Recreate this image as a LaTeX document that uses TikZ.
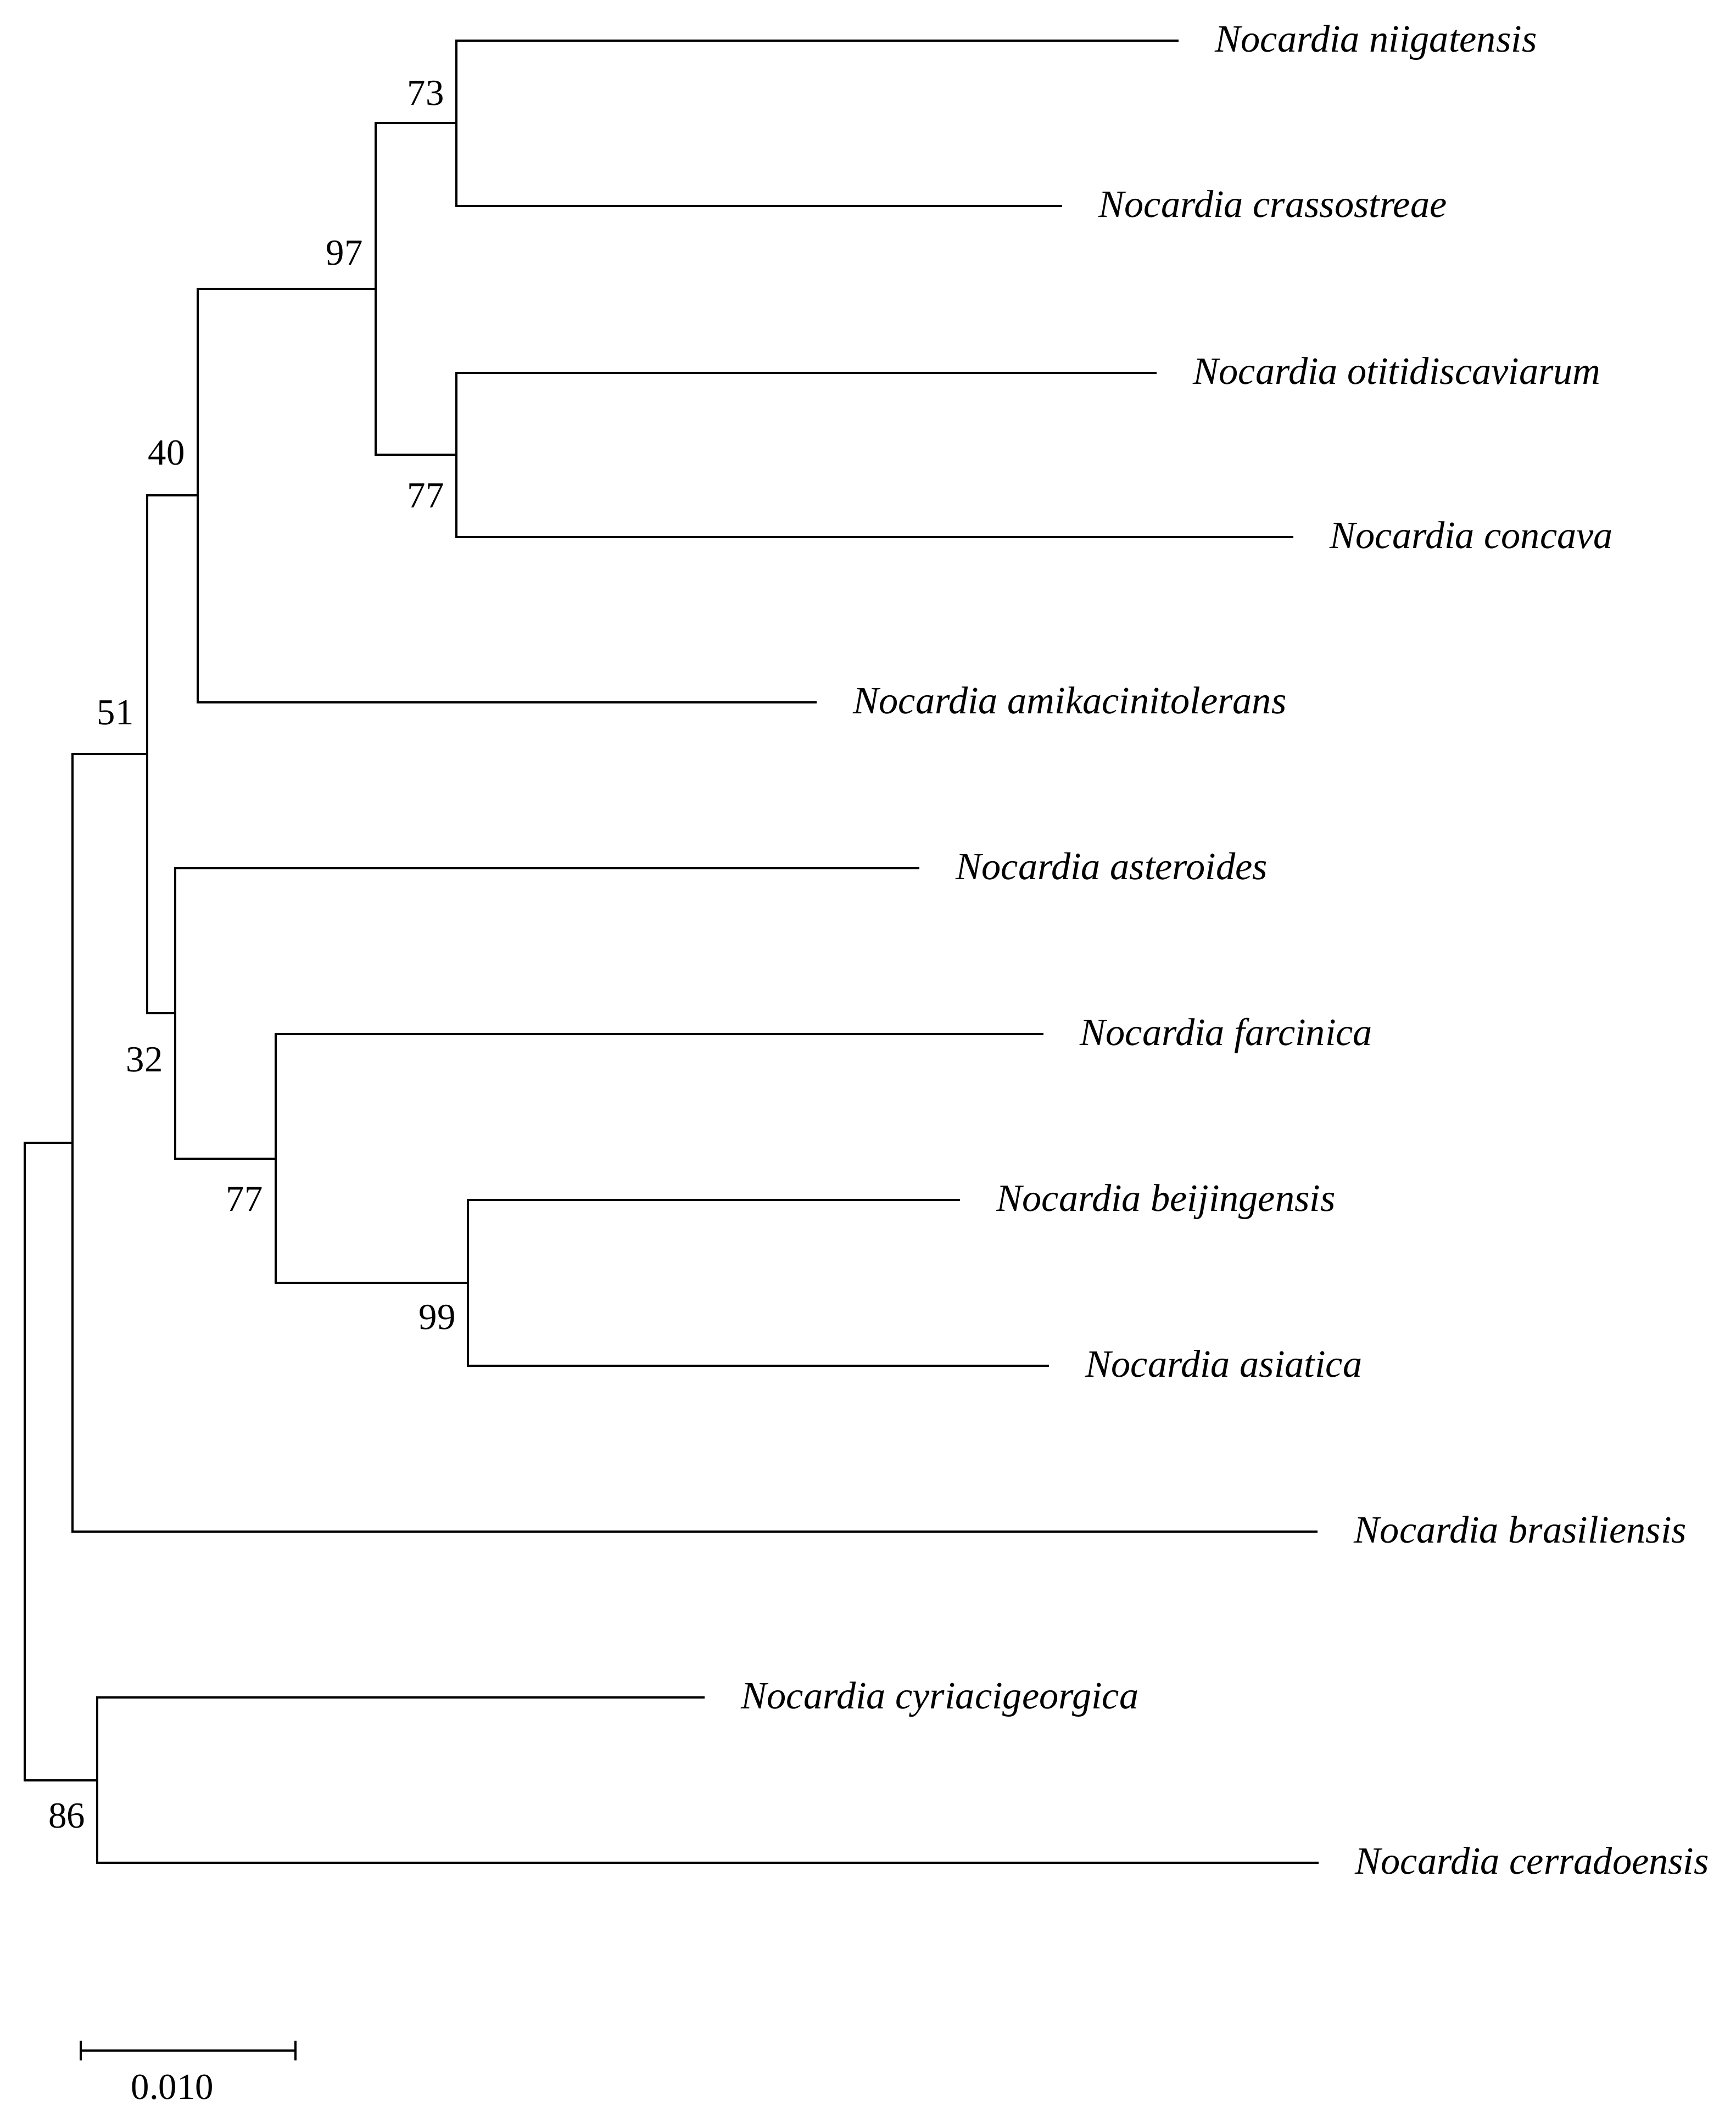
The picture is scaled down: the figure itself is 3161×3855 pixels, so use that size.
\documentclass[tikz,border=0pt]{standalone}
\usepackage{fontspec}
\setmainfont{Liberation Serif}
\usetikzlibrary{positioning}

\begin{document}
\begin{tikzpicture}[x=0.01cm,y=-0.01cm,line width=1.05pt,node distance=0.65cm]
    \tikzstyle{leaf}=[inner sep=0pt,text height=0.66em,text depth=0pt,yshift=-0.09cm,font=\fontsize{20}{24}\selectfont\itshape]
    \tikzstyle{boot}=[inner sep=0pt,text height=0.66em,text depth=0pt,yshift=-0.09cm,font=\fontsize{19}{23}\selectfont]
    \tikzstyle{branch}=[to path={|- (\tikztotarget)}]
    \useasboundingbox (0,0) rectangle (3161,3855);

    % tips
    \coordinate (t1)  at (2146,74);
    \coordinate (t2)  at (1934,375);
    \coordinate (t3)  at (2106,679);
    \coordinate (t4)  at (2355,978);
    \coordinate (t5)  at (1487,1279);
    \coordinate (t6)  at (1674,1581);
    \coordinate (t7)  at (1900,1883);
    \coordinate (t8)  at (1748,2185);
    \coordinate (t9)  at (1910,2487);
    \coordinate (t10) at (2399,2789);
    \coordinate (t11) at (1283,3091);
    \coordinate (t12) at (2401,3392);

    % inner nodes
    \coordinate (A) at (831,224);
    \coordinate (B) at (831,828);
    \coordinate (C) at (684,526);
    \coordinate (D) at (360,902);
    \coordinate (E) at (852,2336);
    \coordinate (F) at (502,2110);
    \coordinate (G) at (319,1845);
    \coordinate (H) at (268,1373);
    \coordinate (I) at (132,2081);
    \coordinate (J) at (177,3242);
    \coordinate (root) at (45,2661);

    \node[leaf] (niig)  [right=of t1]  {Nocardia niigatensis};
    \node[leaf] (crass) [right=of t2]  {Nocardia crassostreae};
    \node[leaf] (otit)  [right=of t3]  {Nocardia otitidiscaviarum};
    \node[leaf] (conc)  [right=of t4]  {Nocardia concava};
    \node[leaf] (amik)  [right=of t5]  {Nocardia amikacinitolerans};
    \node[leaf] (aster) [right=of t6]  {Nocardia asteroides};
    \node[leaf] (farc)  [right=of t7]  {Nocardia farcinica};
    \node[leaf] (beij)  [right=of t8]  {Nocardia beijingensis};
    \node[leaf] (asia)  [right=of t9]  {Nocardia asiatica};
    \node[leaf] (bras)  [right=of t10] {Nocardia brasiliensis};
    \node[leaf] (cyri)  [right=of t11] {Nocardia cyriacigeorgica};
    \node[leaf] (cerr)  [right=of t12] {Nocardia cerradoensis};

    \node[boot] (bA) at ([shift={(-56,-53)}]A) {73};
    \node[boot] (bC) at ([shift={(-57,-64)}]C) {97};
    \node[boot] (bD) at ([shift={(-57,-76)}]D) {40};
    \node[boot] (bB) at ([shift={(-56,76)}]B)  {77};
    \node[boot] (bH) at ([shift={(-58,-74)}]H) {51};
    \node[boot] (bG) at ([shift={(-56,86)}]G)  {32};
    \node[boot] (bF) at ([shift={(-57,75)}]F)  {77};
    \node[boot] (bE) at ([shift={(-56,64)}]E)  {99};
    \node[boot] (bJ) at ([shift={(-55,66)}]J)  {86};

\path
(A) edge[branch] (t1)
(A) edge[branch] (t2)
(B) edge[branch] (t3)
(B) edge[branch] (t4)
(C) edge[branch] (A)
(C) edge[branch] (B)
(D) edge[branch] (C)
(D) edge[branch] (t5)
(E) edge[branch] (t8)
(E) edge[branch] (t9)
(F) edge[branch] (t7)
(F) edge[branch] (E)
(G) edge[branch] (t6)
(G) edge[branch] (F)
(H) edge[branch] (D)
(H) edge[branch] (G)
(I) edge[branch] (H)
(I) edge[branch] (t10)
(J) edge[branch] (t11)
(J) edge[branch] (t12)
(root) edge[branch] (I)
(root) edge[branch] (J);

    % scale bar
    \coordinate (s1) at (147,3734);
    \coordinate (s2) at (538,3734);
    \draw (s1) -- (s2);
    \draw ([yshift=0.18cm]s1) -- ([yshift=-0.18cm]s1);
    \draw ([yshift=0.18cm]s2) -- ([yshift=-0.18cm]s2);
    \node[boot] (scale) at (314,3802) {0.010};

\end{tikzpicture}
\end{document}
